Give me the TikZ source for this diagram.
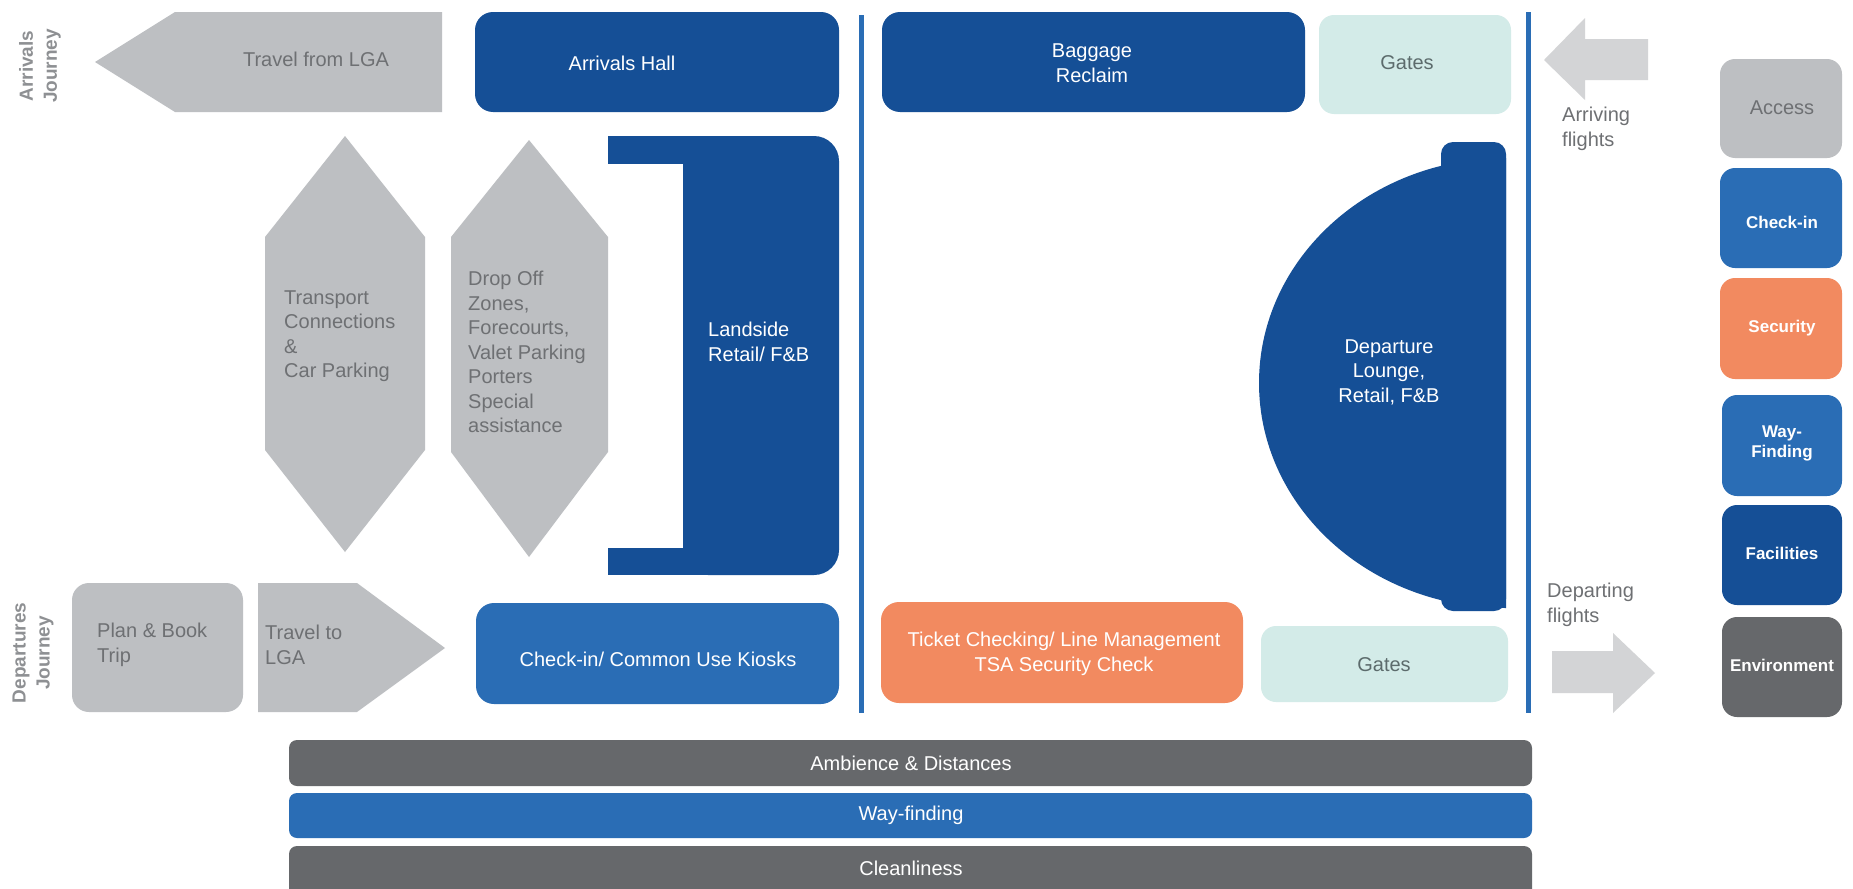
\documentclass[tikz,border=0pt]{standalone}
\usepackage{fontspec}
\setmainfont{Liberation Sans}
\definecolor{darkblue}{HTML}{154F96}
\definecolor{midblue}{HTML}{2A6DB5}
\definecolor{shapegray}{HTML}{BDBFC2}
\definecolor{arrowgray}{HTML}{D3D4D6}
\definecolor{mint}{HTML}{D3EBE8}
\definecolor{orange}{HTML}{F28A60}
\definecolor{slate}{HTML}{66686B}
\definecolor{textgray}{HTML}{6E7073}
\definecolor{labelgray}{HTML}{8E9093}
\definecolor{gatetext}{HTML}{5C6B6C}
\begin{document}
\begin{tikzpicture}[x=1pt,y=-1pt,
  txt/.style={inner sep=0pt, font=\fontsize{20}{24.5}\selectfont},
  graytxt/.style={txt, text=textgray},
  whitetxt/.style={txt, text=white},
  sidelabel/.style={inner sep=0pt, rotate=90, align=center, text=labelgray,
    font=\fontsize{19}{24}\selectfont\bfseries},
  legendtxt/.style={inner sep=0pt, align=center, text=white,
    font=\fontsize{17}{20}\selectfont\bfseries},
  divider/.style={midblue, line width=5pt},
  legendbox/.style={rounded corners=15pt},
  bigbox/.style={rounded corners=18pt},
  bar/.style={rounded corners=8pt}]

% canvas
\useasboundingbox (0,0) rectangle (1853,889);
\fill[white] (0,0) rectangle (1853,889);
\clip (0,0) rectangle (1853,889);

% journey labels
\node[sidelabel] (arrjourney) at (40,66) {Arrivals\\Journey};
\node[sidelabel] (depjourney) at (33,653) {Departures\\Journey};

% arrivals row
\fill[shapegray] (95,62) -- (175,12) -- (442,12) -- (442,112) -- (175,112) -- cycle;
\node[graytxt] (travfrom) at (316,59) {Travel from LGA};

\fill[darkblue, bigbox] (475,12) rectangle (839,112);
\node[whitetxt] (arrhall) at (622,63) {Arrivals Hall};

\fill[darkblue, bigbox] (882,12) rectangle (1305,112);
\node[whitetxt, align=center] (baggage) at (1092,63) {Baggage\\Reclaim};

\fill[mint, legendbox] (1319,15) rectangle (1511,114);
\node[txt, text=gatetext] (gatestop) at (1407,63) {Gates};

% dividers
\coordinate (divAtop) at (861,15);
\coordinate (divAbot) at (861,713);
\coordinate (divBtop) at (1528,12);
\coordinate (divBbot) at (1528,713);
\draw[divider] (divAtop) -- (divAbot);
\draw[divider] (divBtop) -- (divBbot);

% landside hexagons
\fill[shapegray] (345,136) -- (425,237) -- (425,450) -- (345,552) -- (265,450) -- (265,237) -- cycle;
\node[graytxt, align=left, anchor=west] (transport) at (284,336)
  {Transport\\Connections\\\&\\Car Parking};

\fill[shapegray] (529,140) -- (608,237) -- (608,452) -- (529,557) -- (451,452) -- (451,237) -- cycle;
\node[graytxt, align=left, anchor=west] (dropoff) at (468,352)
  {Drop Off\\Zones,\\Forecourts,\\Valet Parking\\Porters\\Special\\assistance};

% landside retail bracket
\fill[darkblue, rounded corners=25pt] (683,136) rectangle (839,575);
\fill[darkblue] (608,136) rectangle (710,164);
\fill[darkblue] (608,548) rectangle (710,575);
\node[whitetxt, align=left, anchor=west] (landside) at (708,342) {Landside\\Retail/ F\&B};

% departure lounge
\fill[darkblue, rounded corners=12pt] (1441,142) rectangle (1506,611);
\begin{scope}
  \clip (1200,120) rectangle (1506,640);
  \fill[darkblue] (1506,383) ellipse [x radius=247, y radius=225];
\end{scope}
\node[whitetxt, align=center] (lounge) at (1389,372) {Departure\\Lounge,\\Retail, F\&B};

% arriving flights
\fill[arrowgray] (1544,60) -- (1585,18) -- (1585,39) -- (1648,39) -- (1648,80) -- (1585,80) -- (1585,100) -- cycle;
\node[graytxt, align=left, anchor=west] (arriving) at (1562,129) {Arriving\\flights};

% departures row
\fill[shapegray, rounded corners=17pt] (72,583) rectangle (243,712);
\node[graytxt, align=left, anchor=west] (plan) at (97,645) {Plan \& Book\\Trip};

\fill[shapegray] (258,583) -- (357,583) -- (445,648) -- (357,712) -- (258,712) -- cycle;
\node[graytxt, align=left, anchor=west] (travto) at (265,645) {Travel to\\LGA};

\fill[midblue, bigbox] (476,603) rectangle (839,704);
\node[whitetxt] (checkin) at (658,659) {Check-in/ Common Use Kiosks};

\fill[orange, bigbox] (881,602) rectangle (1243,703);
\node[whitetxt, align=center] (ticket) at (1064,654) {Ticket Checking/ Line Management\\TSA Security Check};

\fill[mint, legendbox] (1261,626) rectangle (1508,702);
\node[txt, text=gatetext] (gatesbot) at (1384,665) {Gates};

% departing flights
\node[graytxt, align=left, anchor=west] (departing) at (1547,605) {Departing\\flights};
\fill[arrowgray] (1655,673) -- (1613,633) -- (1613,651) -- (1552,651) -- (1552,693) -- (1613,693) -- (1613,713) -- cycle;

% legend
\fill[shapegray, legendbox] (1720,59) rectangle (1842,158);
\node[txt, text=textgray] (lgaccess) at (1782,108) {Access};
\fill[midblue, legendbox] (1720,168) rectangle (1842,268);
\node[legendtxt] (lgcheck) at (1782,222) {Check-in};
\fill[orange, legendbox] (1720,278) rectangle (1842,379);
\node[legendtxt] (lgsecurity) at (1782,328) {Security};
\fill[midblue, legendbox] (1722,395) rectangle (1842,496);
\node[legendtxt] (lgway) at (1782,443) {Way-\\Finding};
\fill[darkblue, legendbox] (1722,505) rectangle (1842,605);
\node[legendtxt] (lgfacil) at (1782,553) {Facilities};
\fill[slate, legendbox] (1722,617) rectangle (1842,717);
\node[legendtxt] (lgenv) at (1782,665) {Environment};

% cross-cutting bars
\fill[slate, bar] (289,740) rectangle (1532,786);
\node[whitetxt] (ambience) at (911,763) {Ambience \& Distances};
\fill[midblue, bar] (289,793) rectangle (1532,838);
\node[whitetxt] (wayfinding) at (911,815) {Way-finding};
\fill[slate, bar] (289,846) rectangle (1532,905);
\node[whitetxt] (clean) at (911,868) {Cleanliness};

\end{tikzpicture}
\end{document}
